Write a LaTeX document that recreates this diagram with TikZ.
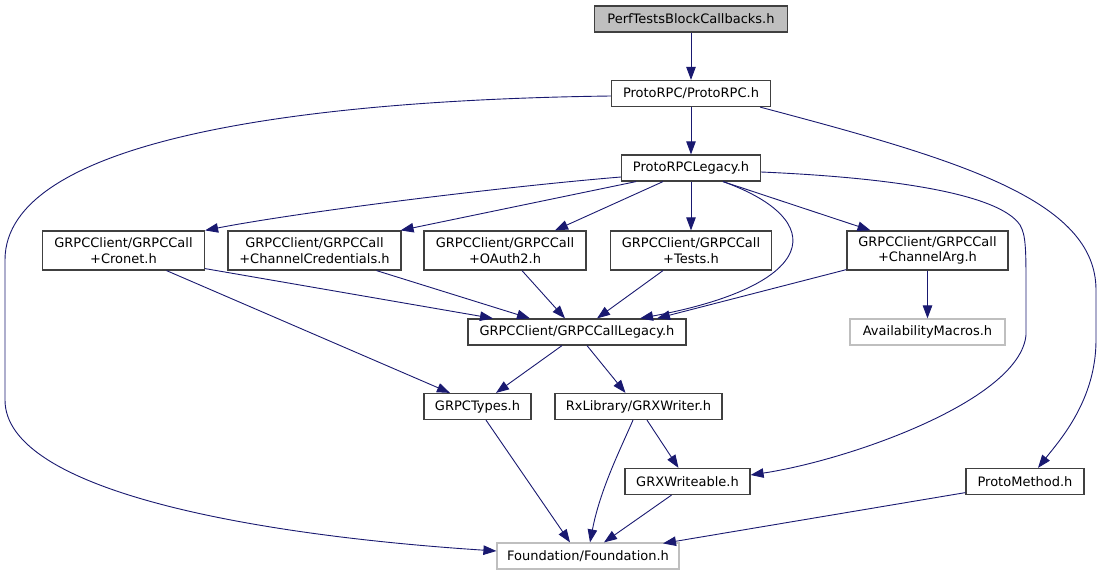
\documentclass[tikz,border=0pt]{standalone}
\usepackage{fontspec}
\setmainfont{DejaVu Sans}
\usetikzlibrary{arrows.meta}
\definecolor{edgec}{HTML}{191970}
\definecolor{lgray}{HTML}{BFBFBF}
\begin{document}
\begin{tikzpicture}[x=1pt,y=-1pt,
  box/.style={draw=black!75, line width=1.2pt, fill=white, inner sep=0pt, align=center,
    font=\fontsize{13}{15.5}\selectfont},
  gbox/.style={box, draw=lgray},
  dep/.style={draw=edgec, line width=0.9pt, -{Triangle[length=13pt,width=9.5pt]}}]
\useasboundingbox (0,0) rectangle (1103,575);
\node[box, fill=lgray, minimum width=193pt, minimum height=26pt] (perf) at (691,19) {PerfTestsBlockCallbacks.h};
\node[box, minimum width=159pt, minimum height=26pt] (proto) at (691,93.5) {ProtoRPC/ProtoRPC.h};
\node[box, minimum width=139pt, minimum height=26pt] (legacy) at (691,168) {ProtoRPCLegacy.h};
\node[box, minimum width=162pt, minimum height=39pt] (cronet) at (123.5,250.5) {GRPCClient/GRPCCall\\+Cronet.h};
\node[box, minimum width=173pt, minimum height=39pt] (cred) at (314.5,250.5) {GRPCClient/GRPCCall\\+ChannelCredentials.h};
\node[box, minimum width=162pt, minimum height=39pt] (oauth) at (505,250.5) {GRPCClient/GRPCCall\\+OAuth2.h};
\node[box, minimum width=161pt, minimum height=39pt] (tests) at (691,250.5) {GRPCClient/GRPCCall\\+Tests.h};
\node[box, minimum width=161pt, minimum height=39pt] (carg) at (927.5,250.5) {GRPCClient/GRPCCall\\+ChannelArg.h};
\node[box, minimum width=218pt, minimum height=26pt] (calllegacy) at (577,332) {GRPCClient/GRPCCallLegacy.h};
\node[gbox, minimum width=155pt, minimum height=26pt] (avail) at (927.5,332) {AvailabilityMacros.h};
\node[box, minimum width=107pt, minimum height=26pt] (types) at (477.5,406.5) {GRPCTypes.h};
\node[box, minimum width=167pt, minimum height=26pt] (writer) at (638.5,406.5) {RxLibrary/GRXWriter.h};
\node[box, minimum width=125pt, minimum height=26pt] (writeable) at (687.5,481.5) {GRXWriteable.h};
\node[box, minimum width=118pt, minimum height=26pt] (pmethod) at (1025,481.5) {ProtoMethod.h};
\node[gbox, minimum width=182pt, minimum height=26pt] (found) at (588,556) {Foundation/Foundation.h};

\draw[dep] (perf.south) -- (proto.north);
\draw[dep] (proto.south) -- (legacy.north);
\draw[dep] ([yshift=-2.5pt]proto.west) .. controls (300,100) and (5,140) .. (5,260) -- (5,400) .. controls (5,490) and (250,535) .. ([yshift=5pt]found.west);
\draw[dep] ([xshift=-11pt]proto.south east) .. controls (960,160) and (1096,200) .. (1096,290) -- (1096,340) .. controls (1096,400) and (1060,440) .. ([xshift=13pt]pmethod.north);
\draw[dep] ([yshift=-9pt]legacy.west) .. controls (500,187) and (300,212) .. (cronet.north east);
\draw[dep] ([xshift=-55pt]legacy.south) -- ([xshift=-1pt]cred.north east);
\draw[dep] ([xshift=-28pt]legacy.south) -- ([xshift=50pt]oauth.north);
\draw[dep] (legacy.south) -- (tests.north);
\draw[dep] ([xshift=32pt]legacy.south) -- ([xshift=-57pt]carg.north);
\draw[dep] ([xshift=32pt]legacy.south) .. controls (830,220) and (820,285) .. ([xshift=63pt]calllegacy.north);
\draw[dep] ([yshift=-4pt]legacy.east) .. controls (900,178) and (1000,195) .. (1020,225) .. controls (1026,235) and (1026,250) .. (1026,290) -- (1026,335) .. controls (1020,400) and (850,460) .. ([yshift=6.5pt]writeable.east);
\draw[dep] ([yshift=2pt]cronet.south east) -- ([xshift=-84pt]calllegacy.north);
\draw[dep] ([xshift=43pt]cronet.south) -- ([xshift=-27.5pt]types.north);
\draw[dep] ([xshift=62pt]cred.south) -- ([xshift=-47pt]calllegacy.north);
\draw[dep] ([xshift=17pt]oauth.south) -- ([xshift=-12pt]calllegacy.north);
\draw[dep] ([xshift=-28pt]tests.south) -- ([xshift=20pt]calllegacy.north);
\draw[dep] ([yshift=1pt]carg.south west) -- ([xshift=80pt]calllegacy.north);
\draw[dep] (carg.south) -- (avail.north);
\draw[dep] ([xshift=-15pt]calllegacy.south) -- ([xshift=18.5pt]types.north);
\draw[dep] ([xshift=10pt]calllegacy.south) -- ([xshift=-13pt]writer.north);
\draw[dep] ([xshift=8.5pt]types.south) -- ([xshift=-18pt]found.north);
\draw[dep] ([xshift=-5.5pt]writer.south) .. controls (620,450) and (600,490) .. ([xshift=2pt]found.north);
\draw[dep] ([xshift=8.5pt]writer.south) -- ([xshift=-9pt]writeable.north);
\draw[dep] ([xshift=-16pt]writeable.south) -- ([xshift=16pt]found.north);
\draw[dep] ([yshift=2.5pt]pmethod.south west) -- ([xshift=75pt,yshift=-1pt]found.north);
\end{tikzpicture}
\end{document}
